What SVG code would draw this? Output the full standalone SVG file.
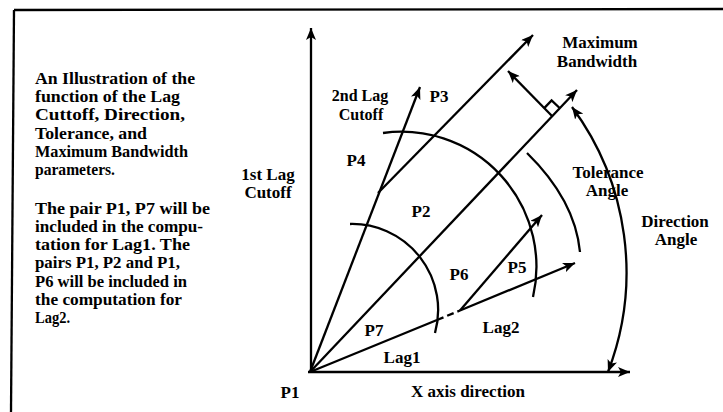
<svg xmlns="http://www.w3.org/2000/svg" width="723" height="412" viewBox="0 0 723 412">
<style>
.t{font-family:"Liberation Serif","Times New Roman",serif;font-weight:bold;font-size:16px;fill:#000}
.m{text-anchor:middle;font-size:17px}
.ln{stroke:#000;stroke-width:2.3;fill:none}
</style>
<defs>
<marker id="ah" viewBox="0 0 12 10" refX="12" refY="5" markerWidth="12" markerHeight="10" orient="auto-start-reverse" markerUnits="userSpaceOnUse">
<path d="M0,0 L12,5 L0,10 L3,5 z" fill="#000"/>
</marker>
</defs>
<rect width="723" height="412" fill="#fff"/>
<g id="frame">
<path class="ln" d="M14,10 L723,9"/>
<path class="ln" d="M14,10 L11,412"/>
</g>
<g id="caption" class="t">
<text x="35" y="84" textLength="160" lengthAdjust="spacingAndGlyphs">An Illustration of the</text>
<text x="35" y="102" textLength="145" lengthAdjust="spacingAndGlyphs">function of the Lag</text>
<text x="35" y="120" textLength="150" lengthAdjust="spacingAndGlyphs">Cuttoff, Direction,</text>
<text x="35" y="139" textLength="112" lengthAdjust="spacingAndGlyphs">Tolerance, and</text>
<text x="35" y="157" textLength="153" lengthAdjust="spacingAndGlyphs">Maximum Bandwidth</text>
<text x="35" y="175" textLength="80" lengthAdjust="spacingAndGlyphs">parameters.</text>
<text x="35" y="214" textLength="175" lengthAdjust="spacingAndGlyphs">The pair P1, P7 will be</text>
<text x="35" y="232" textLength="168" lengthAdjust="spacingAndGlyphs">included in the compu-</text>
<text x="35" y="250" textLength="155" lengthAdjust="spacingAndGlyphs">tation for Lag1.  The</text>
<text x="35" y="268" textLength="145" lengthAdjust="spacingAndGlyphs">pairs P1, P2 and P1,</text>
<text x="35" y="287" textLength="152" lengthAdjust="spacingAndGlyphs">P6 will be included in</text>
<text x="35" y="305" textLength="147" lengthAdjust="spacingAndGlyphs">the computation for</text>
<text x="35" y="323" textLength="35" lengthAdjust="spacingAndGlyphs">Lag2.</text>
</g>
<g id="connectors" class="ln">
<path id="y-axis" d="M311,372 L311,28" marker-end="url(#ah)"/>
<path id="x-axis" d="M308,372 L630,372" marker-end="url(#ah)"/>
<path id="tol-upper" d="M310,372 L420,87" marker-end="url(#ah)"/>
<path id="direction" d="M310,372 L577,90" marker-end="url(#ah)"/>
<path id="bw-upper" d="M378,193 L533,35" marker-end="url(#ah)"/>
<path id="tol-lower-a" d="M310,372 L437,320"/>
<path id="tol-lower-b" d="M437,320 L460,310.5" stroke-dasharray="7,4"/>
<path id="tol-lower-c" d="M460,310.5 L575,263" marker-end="url(#ah)"/>
<path id="bw-lower" d="M460,310.5 L542,215" marker-end="url(#ah)"/>
<path id="bw-perp" d="M552,116 L508,71" marker-end="url(#ah)"/>
<path id="right-angle" d="M544,108.4 L551.6,100.4 L559.6,108"/>
<path id="lag1-arc" d="M350,224 A86,86 0 0 1 435,333"/>
<path id="lag2-arc" d="M383,133 A135,135 0 0 1 533,297"/>
<path id="tolerance-arc" d="M527,153 Q575,200 580,252"/>
<path id="direction-arc" d="M572,107 A278,278 0 0 1 608,372" marker-start="url(#ah)" marker-end="url(#ah)"/>
</g>
<g id="labels" class="t m">
<g id="max-bw"><text x="600" y="48">Maximum</text><text x="597" y="67">Bandwidth</text></g>
<g id="lag2-cutoff" style="font-size:16px"><text x="360" y="101">2nd Lag</text><text x="361" y="120">Cutoff</text></g>
<g id="lag1-cutoff"><text x="268" y="180">1st Lag</text><text x="268" y="198">Cutoff</text></g>
<g id="tol-angle"><text x="608" y="178">Tolerance</text><text x="607" y="196">Angle</text></g>
<g id="dir-angle"><text x="675" y="227">Direction</text><text x="676" y="245">Angle</text></g>
<g id="p3"><text x="439" y="102">P3</text></g>
<g id="p4"><text x="356" y="166">P4</text></g>
<g id="p2"><text x="421" y="217">P2</text></g>
<g id="p6"><text x="459" y="280">P6</text></g>
<g id="p5"><text x="517" y="273">P5</text></g>
<g id="p7"><text x="374" y="336">P7</text></g>
<g id="lag2"><text x="501" y="333">Lag2</text></g>
<g id="lag1"><text x="402" y="363">Lag1</text></g>
<g id="p1"><text x="290" y="398">P1</text></g>
<g id="x-dir"><text x="468" y="397">X axis direction</text></g>
</g>
</svg>
